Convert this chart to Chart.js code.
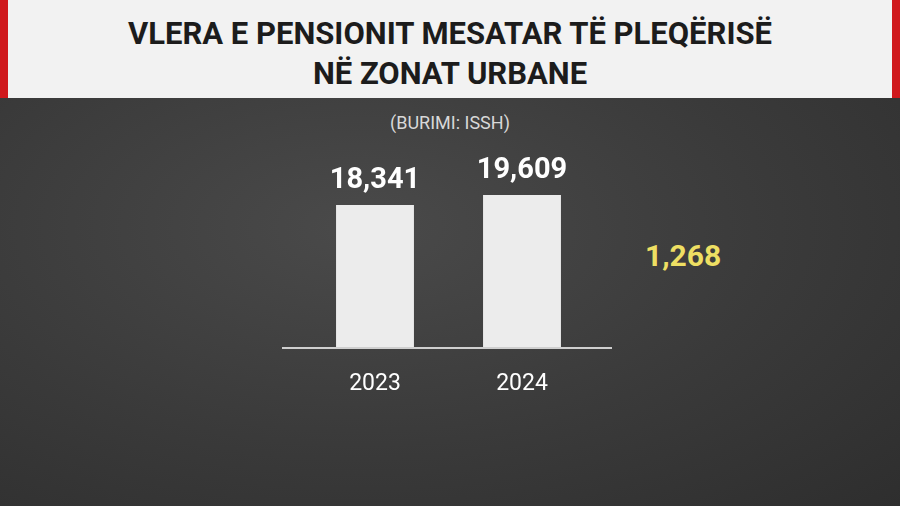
<!DOCTYPE html>
<html><head><meta charset="utf-8">
<script src="https://cdn.jsdelivr.net/npm/chart.js@4"></script>
<style>
html,body{margin:0;padding:0;}
body{width:900px;height:506px;position:relative;overflow:hidden;font-family:Roboto,"Noto Sans",sans-serif;
background:radial-gradient(ellipse at 40% 45%,#4a4a4a 0%,#3a3a3a 55%,#2e2e2e 100%);}
#band{position:absolute;left:0;top:0;width:900px;height:98px;background:#f2f2f2;border-left:8px solid #d0181c;border-right:8px solid #d0181c;box-sizing:border-box;}
#title{position:absolute;left:0;top:14px;width:900px;text-align:center;font-weight:700;font-size:31px;line-height:40px;color:#1c1c1c;}
#sub{position:absolute;left:0;top:112px;width:900px;text-align:center;color:#d8d8d8;font-size:18px;}
#diff{position:absolute;left:645px;top:238px;color:#eedf63;font-weight:700;font-size:30px;}
canvas{position:absolute;left:0;top:0;}
</style></head><body>
<div id="band"></div>
<div id="title">VLERA E PENSIONIT MESATAR TË PLEQËRISË<br>NË ZONAT URBANE</div>
<div id="sub">(BURIMI: ISSH)</div>
<div id="diff">1,268</div>
<div style="position:absolute;left:0;top:0;width:900px;height:506px"><canvas id="c" width="900" height="506"></canvas></div>
<script>
const categories=["2023","2024"];
const values=[18341,19609];
const valueLabels=["18,341","19,609"];
const labelPlugin={id:'lbl',afterDatasetsDraw(chart){
 const ctx=chart.ctx;const meta=chart.getDatasetMeta(0);
 ctx.save();ctx.fillStyle='#ffffff';ctx.font='700 29px Roboto';ctx.textAlign='center';ctx.textBaseline='bottom';
 meta.data.forEach((b,i)=>ctx.fillText(valueLabels[i],b.x,b.y-10));
 const y=chart.chartArea.bottom;ctx.strokeStyle='#cfcfcf';ctx.lineWidth=2;ctx.beginPath();ctx.moveTo(282,y);ctx.lineTo(612,y);ctx.stroke();
 ctx.restore();}};
new Chart(document.getElementById('c'),{type:'bar',
 data:{labels:categories,datasets:[{data:values,backgroundColor:'#ececec',barPercentage:0.53,categoryPercentage:1}]},
 options:{responsive:false,animation:false,
  layout:{padding:{left:301.5,right:304.5,top:100,bottom:0}},
  plugins:{legend:{display:false},tooltip:{enabled:false}},
  scales:{y:{display:false,min:0,max:31800},
   x:{grid:{display:false},border:{display:false},ticks:{color:'#ffffff',font:{size:23,family:'Roboto'},padding:14},
      afterFit(s){s.height=158;}}}},
 plugins:[labelPlugin]});
</script></body></html>
